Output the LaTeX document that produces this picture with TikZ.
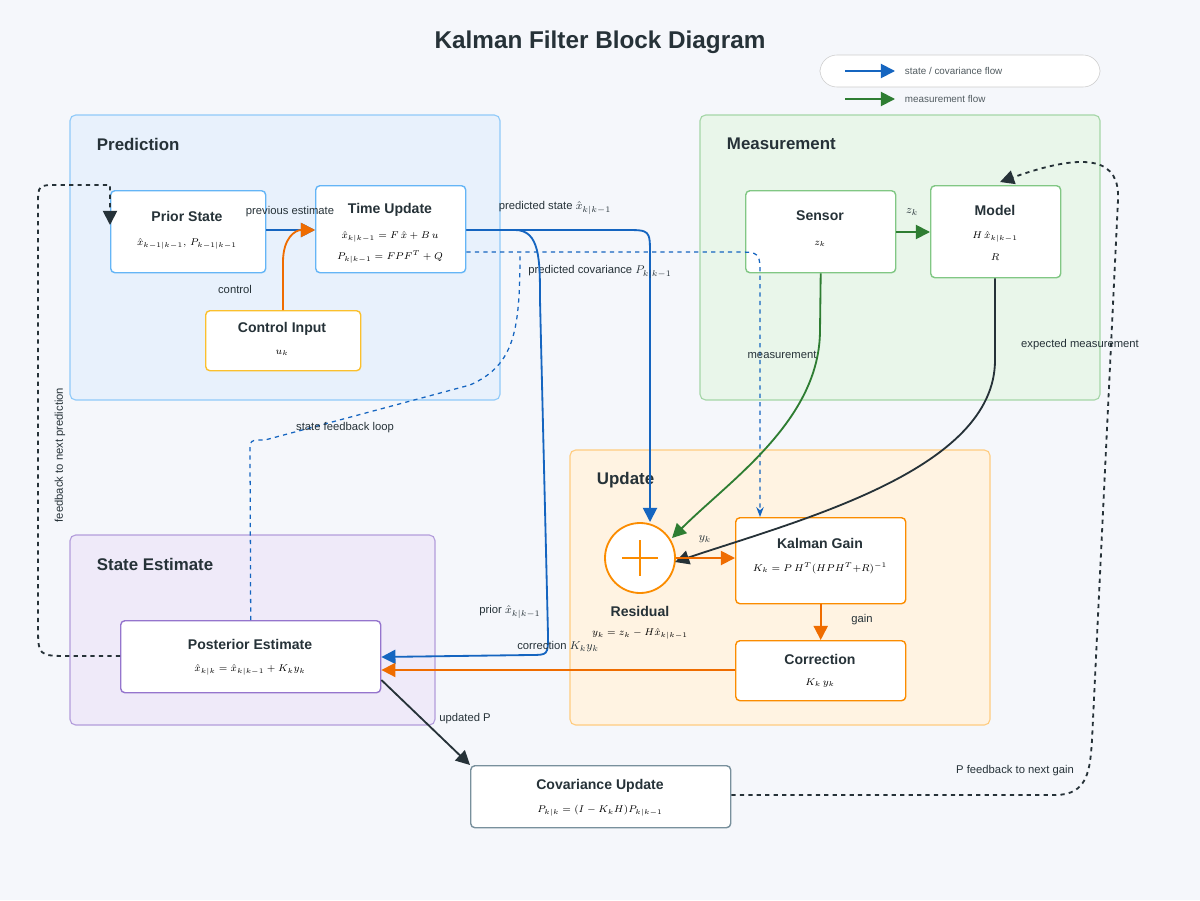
\documentclass[tikz,border=0pt]{standalone}
\usepackage{fontspec}
\setmainfont{Liberation Sans}
\usetikzlibrary{arrows.meta}
\definecolor{bluec}{HTML}{1565C0}
\definecolor{greenc}{HTML}{2E7D32}
\definecolor{orangec}{HTML}{EF6C00}
\definecolor{darkc}{HTML}{263238}
\definecolor{bgc}{HTML}{F5F7FB}
\definecolor{predfill}{HTML}{E8F1FC}
\definecolor{preddraw}{HTML}{90CAF9}
\definecolor{measfill}{HTML}{E9F6EA}
\definecolor{measdraw}{HTML}{A5D6A7}
\definecolor{updfill}{HTML}{FFF3E2}
\definecolor{upddraw}{HTML}{FFCC80}
\definecolor{estfill}{HTML}{EFEAF9}
\definecolor{estdraw}{HTML}{B39DDB}
\definecolor{blueb}{HTML}{64B5F6}
\definecolor{greenb}{HTML}{81C784}
\definecolor{orangeb}{HTML}{FB8C00}
\definecolor{yellowb}{HTML}{FBC02D}
\definecolor{purpleb}{HTML}{9575CD}
\definecolor{greyb}{HTML}{78909C}
\begin{document}
\begin{tikzpicture}[x=0.025cm,y=-0.025cm,font=\small]
\tikzstyle{panel}=[rectangle, rounded corners=4pt, line width=0.8pt]
\tikzstyle{block}=[rectangle, rounded corners=3pt, draw, fill=white, line width=1pt, align=center, anchor=north west]
\tikzstyle{connect}=[-{Triangle[length=10pt,width=10pt]}, line width=1.3pt]
\tikzstyle{lbl}=[font=\footnotesize, text=darkc]
\tikzstyle{leg}=[font=\scriptsize, text=darkc!80, anchor=west]
\tikzstyle{ptitle}=[font=\large\bfseries, text=darkc, anchor=west]
\useasboundingbox[fill=bgc] (0,0) rectangle (1200,900);
\node[font=\LARGE\bfseries, text=darkc] (title) at (600,42) {Kalman Filter Block Diagram};
% legend
\draw[rounded corners=12pt, draw=black!20, fill=white] (820,55) rectangle (1100,87);
\draw[connect, bluec] (845,71) -- (895,71);
\node[leg] (legblue) at (900,71) {state / covariance flow};
\draw[connect, greenc] (845,99) -- (895,99);
\node[leg] (leggreen) at (900,99) {measurement flow};
\draw[connect, orangec] (845,127) -- (895,127);
\node[leg] (legorange) at (900,127) {update information};
% panels
\draw[panel, draw=preddraw, fill=predfill] (70,115) rectangle (500,400);
\node[ptitle] at (92,144) {Prediction};
\draw[panel, draw=measdraw, fill=measfill] (700,115) rectangle (1100,400);
\node[ptitle] at (722,144) {Measurement};
\draw[panel, draw=upddraw, fill=updfill] (570,450) rectangle (990,725);
\node[ptitle] at (592,480) {Update};
\draw[panel, draw=estdraw, fill=estfill] (70,535) rectangle (435,725);
\node[ptitle] at (92,564) {State Estimate};
% blocks
\node[block, draw=blueb, minimum width=155*0.025cm, minimum height=82*0.025cm] (prior) at (110,190) {};
\node[font=\bfseries, text=darkc] at (187,216) {Prior State};
\node[font=\scriptsize] at (187,244) {$\hat{x}_{k-1|k-1},\, P_{k-1|k-1}$};
\node[block, draw=blueb, minimum width=150*0.025cm, minimum height=87*0.025cm] (tupd) at (315,185) {};
\node[font=\bfseries, text=darkc] at (390,210) {Time Update};
\node[font=\scriptsize] at (390,237) {$\hat{x}_{k|k-1} = F\,\hat{x} + B\,u$};
\node[font=\scriptsize] at (390,257) {$P_{k|k-1} = FPF^{T} + Q$};
\node[block, draw=yellowb, minimum width=155*0.025cm, minimum height=60*0.025cm] (ctrl) at (205,310) {};
\node[font=\bfseries, text=darkc] at (282,329) {Control Input};
\node[font=\scriptsize] at (282,353) {$u_k$};
\node[block, draw=greenb, minimum width=150*0.025cm, minimum height=82*0.025cm] (sensor) at (745,190) {};
\node[font=\bfseries, text=darkc] at (820,216) {Sensor};
\node[font=\scriptsize] at (820,244) {$z_k$};
\node[block, draw=greenb, minimum width=130*0.025cm, minimum height=92*0.025cm] (model) at (930,185) {};
\node[font=\bfseries, text=darkc] at (995,210) {Model};
\node[font=\scriptsize] at (995,237) {$H\,\hat{x}_{k|k-1}$};
\node[font=\scriptsize] at (995,257) {$R$};
\node[circle, draw=orangeb, fill=white, line width=1.3pt, minimum size=70*0.025cm] (resid) at (640,558) {};
\draw[orangeb, line width=1.2pt] (622,558) -- (658,558) (640,540) -- (640,576);
\node[font=\bfseries, text=darkc] at (640,611) {Residual};
\node[font=\scriptsize] at (640,634) {$y_k = z_k - H\hat{x}_{k|k-1}$};
\node[block, draw=orangeb, minimum width=170*0.025cm, minimum height=86*0.025cm] (gain) at (735,517) {};
\node[font=\bfseries, text=darkc] at (820,543) {Kalman Gain};
\node[font=\scriptsize] at (820,568) {$K_k = P\,H^{T}(HPH^{T}{+}R)^{-1}$};
\node[block, draw=orangeb, minimum width=170*0.025cm, minimum height=60*0.025cm] (corr) at (735,640) {};
\node[font=\bfseries, text=darkc] at (820,659) {Correction};
\node[font=\scriptsize] at (820,683) {$K_k\, y_k$};
\node[block, draw=purpleb, minimum width=260*0.025cm, minimum height=72*0.025cm] (post) at (120,620) {};
\node[font=\bfseries, text=darkc] at (250,644) {Posterior Estimate};
\node[font=\scriptsize] at (250,670) {$\hat{x}_{k|k} = \hat{x}_{k|k-1} + K_k y_k$};
\node[block, draw=greyb, minimum width=260*0.025cm, minimum height=62*0.025cm] (cov) at (470,765) {};
\node[font=\bfseries, text=darkc] at (600,786) {Covariance Update};
\node[font=\scriptsize] at (600,811) {$P_{k|k} = (I - K_k H)P_{k|k-1}$};
% connectors
\draw[connect, bluec] (prior.east |- 0,230) -- (tupd.west |- 0,230);
\node[lbl] at (290,212) {previous estimate};
\draw[connect, orangec] (ctrl.north -| 283,0) -- (283,262) .. controls (283,238) and (295,230) .. (tupd.west |- 0,230);
\node[lbl] at (235,289) {control};
\draw[connect, bluec] (tupd.east |- 0,230) -- (625,230) .. controls (650,230) .. (650,255) -- (650,522);
\node[lbl] at (555,208) {predicted state $\hat{x}_{k|k-1}$};
\draw[bluec, dashed, -{Stealth}, line width=0.9pt] (tupd.east |- 0,252) -- (735,252) .. controls (760,252) .. (760,277) -- (gain.north -| 760,0);
\node[lbl] at (600,272) {predicted covariance $P_{k|k-1}$};
\draw[connect, bluec] (tupd.east |- 0,230) -- (515,230) .. controls (540,230) and (540,260) .. (540,300) -- (548,635) .. controls (548,655) .. (530,655) -- (post.east |- 0,657);
\node[lbl] at (510,612) {prior $\hat{x}_{k|k-1}$};
\draw[bluec, dashed, line width=0.9pt] (post.north) -- (250,452) .. controls (250,440) .. (265,440) -- (470,385) .. controls (515,365) and (520,330) .. (520,252);
\node[lbl] at (345,428) {state feedback loop};
\draw[connect, greenc] (sensor.south) -- (820,330) .. controls (820,420) and (730,480) .. (672,538);
\node[lbl] at (782,355) {measurement};
\draw[connect, greenc] (sensor.east |- 0,232) -- (model.west |- 0,232);
\node[lbl] at (912,212) {$z_k$};
\draw[connect, darkc] (model.south -| 995,0) -- (995,360) .. controls (995,470) and (800,520) .. (675,562);
\node[lbl] at (1080,345) {expected measurement};
\draw[connect, orangec] (resid.east) -- (gain.west |- resid);
\node[lbl] at (705,539) {$y_k$};
\draw[connect, orangec] (gain.south) -- (corr.north);
\node[lbl] at (862,620) {gain};
\draw[connect, orangec] (corr.west |- 0,670) -- (post.east |- 0,670);
\node[lbl] at (558,647) {correction $K_k y_k$};
\draw[connect, darkc] (post.east |- 0,680) -- (cov.north west);
\node[lbl] at (465,719) {updated P};
\draw[connect, darkc, dashed] (cov.east |- 0,795) -- (1055,795) .. controls (1088,795) and (1090,770) .. (1092,740) -- (1118,200) .. controls (1120,160) and (1090,150) .. (1000,182);
\node[lbl] at (1015,771) {P feedback to next gain};
\draw[connect, darkc, dashed] (post.west |- 0,656) -- (70,656) .. controls (38,656) .. (38,625) -- (38,205) .. controls (38,185) .. (58,185) -- (110,185) -- (110,225);
\node[lbl, rotate=90] at (60,455) {feedback to next prediction};
\end{tikzpicture}
\end{document}
